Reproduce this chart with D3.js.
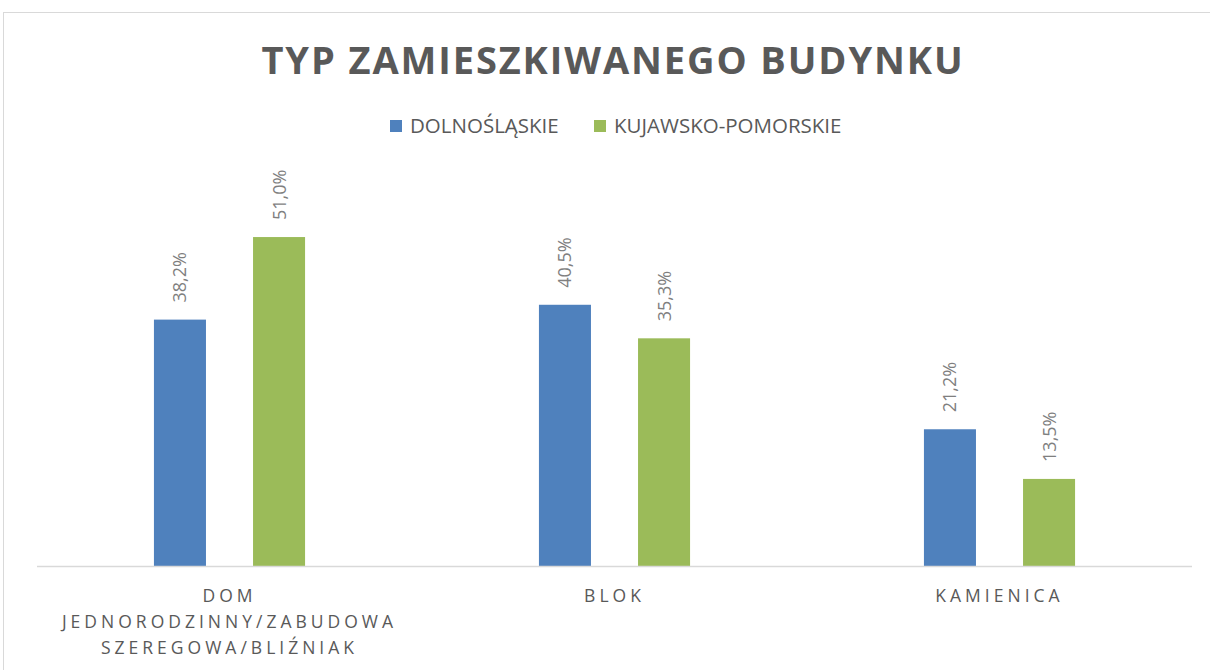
<!DOCTYPE html>
<html>
<head>
<meta charset="utf-8">
<script src="https://cdn.jsdelivr.net/npm/d3@7"></script>
<style>
    body { margin: 0; background: #fff; }
    svg { display: block; font-family: "Open Sans", sans-serif; }
</style>
</head>
<body>
<div id="chart"></div>
<script>
const title = "TYP ZAMIESZKIWANEGO BUDYNKU";
const categories = [
    ["DOM", "JEDNORODZINNY/ZABUDOWA", "SZEREGOWA/BLIŹNIAK"],
    ["BLOK"],
    ["KAMIENICA"]
];
const seriesNames = ["DOLNOŚLĄSKIE", "KUJAWSKO-POMORSKIE"];
const seriesColors = ["#4f81bd", "#9bbb59"];
const dolnoslaskie = [38.2, 40.5, 21.2];
const kujawsko = [51.0, 35.3, 13.5];

const width = 1210, height = 670;
const marginLeft = 37, marginRight = 18, baseline = 566;

const svg = d3.select("#chart").append("svg")
    .attr("width", width)
    .attr("height", height);

// chart frame
svg.append("rect")
    .attr("x", 3.5).attr("y", 12.5)
    .attr("width", width + 10).attr("height", height + 10)
    .attr("fill", "none")
    .attr("stroke", "#d9d9d9");

const keys = categories.map((c, i) => i);
const x0 = d3.scaleBand()
    .domain(keys)
    .range([marginLeft, width - marginRight]);

const x1 = d3.scaleBand()
    .domain(seriesNames)
    .range([0, x0.bandwidth()])
    .paddingInner(0.475)
    .paddingOuter(1.18);

const y = d3.scaleLinear()
    .domain([0, 60])
    .range([baseline, baseline - 60 * 6.45]);

const rows = keys.map(i => ({
    i,
    values: [dolnoslaskie[i], kujawsko[i]]
}));

const groups = svg.append("g")
    .selectAll("g")
    .data(rows)
    .join("g")
    .attr("transform", d => `translate(${x0(d.i)},0)`);

groups.selectAll("rect")
    .data(d => d.values.map((v, j) => ({v, j})))
    .join("rect")
    .attr("x", d => x1(seriesNames[d.j]))
    .attr("y", d => y(d.v))
    .attr("width", x1.bandwidth())
    .attr("height", d => y(0) - y(d.v))
    .attr("fill", d => seriesColors[d.j]);

// rotated value labels
groups.selectAll("text")
    .data(d => d.values.map((v, j) => ({v, j})))
    .join("text")
    .attr("transform", d => `translate(${x1(seriesNames[d.j]) + x1.bandwidth() / 2 + 6.5},${y(d.v) - 17}) rotate(-90)`)
    .attr("fill", "#7f7f7f")
    .attr("font-size", 18)
    .text(d => d.v.toFixed(1).replace(".", ",") + "%");

// baseline axis
svg.append("line")
    .attr("x1", marginLeft).attr("x2", width - marginRight)
    .attr("y1", baseline + 0.5).attr("y2", baseline + 0.5)
    .attr("stroke", "#d9d9d9")
    .attr("stroke-width", 1.5);

// category labels
const cat = svg.append("g")
    .selectAll("text")
    .data(keys)
    .join("text")
    .attr("x", i => x0(i) + x0.bandwidth() / 2)
    .attr("y", 602)
    .attr("text-anchor", "middle")
    .attr("fill", "#595959")
    .attr("font-size", 17.5)
    .attr("letter-spacing", "4px");

cat.selectAll("tspan")
    .data(i => categories[i])
    .join("tspan")
    .attr("x", function() { return this.parentNode.getAttribute("x"); })
    .attr("dy", (d, k) => k === 0 ? 0 : 26)
    .text(d => d);

// title
svg.append("text")
    .attr("x", 613)
    .attr("y", 74)
    .attr("text-anchor", "middle")
    .attr("fill", "#595959")
    .attr("font-size", 38)
    .attr("font-weight", "bold")
    .attr("letter-spacing", "1.9px")
    .text(title);

// legend
const legendX = [390, 594];
const legend = svg.append("g")
    .selectAll("g")
    .data(seriesNames)
    .join("g")
    .attr("transform", (d, i) => `translate(${legendX[i]},120)`);

legend.append("rect")
    .attr("width", 12).attr("height", 12)
    .attr("fill", (d, i) => seriesColors[i]);

legend.append("text")
    .attr("x", 20)
    .attr("y", 13)
    .attr("fill", "#595959")
    .attr("font-size", 20.5)
    .text(d => d);
</script>
</body>
</html>
